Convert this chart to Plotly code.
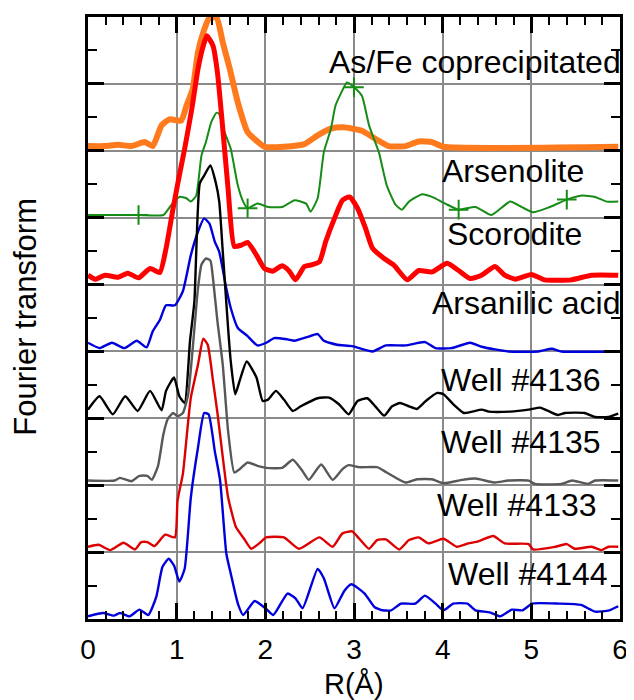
import plotly.graph_objects as go

# ---------------- data (R in Angstrom, stacked Fourier transform magnitude) ----------------
asfe_x = [0.0, 0.19, 0.34, 0.49, 0.64, 0.73, 0.83, 0.92, 1.05, 1.11, 1.18, 1.24, 1.30, 1.37, 1.45,
          1.52, 1.60, 1.69, 1.80, 1.91, 1.99, 2.21, 2.44, 2.59, 2.74, 2.88, 3.09, 3.24, 3.39, 3.58,
          3.73, 3.88, 4.01, 5.98]
asfe_y = [7.07, 7.07, 7.09, 7.07, 7.13, 7.07, 7.38, 7.47, 7.45, 7.67, 7.92, 8.47, 8.77, 8.99, 8.99,
          8.62, 8.22, 7.72, 7.28, 7.14, 7.06, 7.06, 7.10, 7.23, 7.33, 7.35, 7.30, 7.18, 7.07, 7.07,
          7.14, 7.13, 7.06, 7.06]

arsenolite_x = [0.0, 0.57, 0.85, 0.94, 1.03, 1.11, 1.16, 1.22, 1.28, 1.33, 1.39, 1.45, 1.48, 1.54,
                1.61, 1.69, 1.75, 1.80, 1.91, 2.03, 2.19, 2.33, 2.46, 2.51, 2.59, 2.66, 2.74, 2.79,
                2.85, 2.92, 3.00, 3.09, 3.17, 3.28, 3.37, 3.47, 3.54, 3.62, 3.77, 3.88, 4.03, 4.18,
                4.37, 4.55, 4.76, 4.89, 5.02, 5.19, 5.40, 5.57, 5.72, 5.85, 5.98]
arsenolite_y = [6.04, 6.04, 6.04, 6.19, 6.31, 6.29, 6.24, 6.33, 6.93, 7.13, 7.43, 7.57, 7.55, 7.28,
                7.03, 6.48, 6.24, 6.14, 6.21, 6.16, 6.16, 6.26, 6.21, 6.09, 6.29, 6.98, 7.33, 7.67,
                7.85, 8.02, 7.95, 7.82, 7.38, 6.98, 6.48, 6.19, 6.12, 6.24, 6.35, 6.31, 6.21, 6.12,
                6.16, 6.04, 6.24, 6.16, 6.08, 6.15, 6.27, 6.33, 6.31, 6.24, 6.24]
arsenolite_marks = [1, 17, 30, 41, 48]

scorodite_x = [0.0, 0.08, 0.19, 0.34, 0.45, 0.57, 0.70, 0.81, 0.88, 0.96, 1.03, 1.09, 1.17, 1.24,
               1.30, 1.34, 1.41, 1.46, 1.52, 1.58, 1.65, 1.73, 1.80, 1.90, 1.99, 2.08, 2.19, 2.27,
               2.34, 2.44, 2.51, 2.61, 2.68, 2.78, 2.87, 2.95, 3.04, 3.13, 3.21, 3.34, 3.45, 3.60,
               3.73, 3.88, 4.05, 4.18, 4.31, 4.44, 4.59, 4.70, 4.82, 5.00, 5.15, 5.45, 5.68, 5.98]
scorodite_y = [5.14, 5.08, 5.14, 5.11, 5.17, 5.10, 5.24, 5.18, 5.54, 6.14, 6.63, 7.03, 7.62, 8.22,
               8.57, 8.72, 8.57, 8.17, 7.33, 6.43, 5.57, 5.59, 5.63, 5.44, 5.24, 5.20, 5.28, 5.20,
               5.07, 5.27, 5.29, 5.34, 5.64, 5.99, 6.26, 6.31, 6.14, 5.84, 5.54, 5.39, 5.29, 5.07,
               5.21, 5.19, 5.32, 5.21, 5.09, 5.14, 5.27, 5.14, 5.08, 5.15, 5.07, 5.07, 5.14, 5.14]

arsanilic_x = [0.0, 0.13, 0.27, 0.41, 0.55, 0.66, 0.73, 0.81, 0.88, 0.98, 1.07, 1.16, 1.24, 1.31,
               1.37, 1.43, 1.48, 1.56, 1.61, 1.69, 1.80, 1.91, 2.01, 2.10, 2.25, 2.33, 2.46, 2.59,
               2.66, 2.81, 2.98, 3.21, 3.36, 3.58, 3.80, 3.92, 4.10, 4.31, 4.44, 4.59, 4.74, 5.08,
               5.23, 5.34, 5.98]
arsanilic_y = [4.13, 4.05, 4.13, 4.05, 4.16, 4.06, 4.30, 4.47, 4.69, 4.69, 4.90, 5.44, 5.79, 5.99,
               5.91, 5.64, 5.49, 4.94, 4.65, 4.35, 4.23, 4.09, 4.13, 4.20, 4.18, 4.16, 4.21, 4.26,
               4.16, 4.10, 4.08, 4.00, 4.09, 4.09, 4.14, 4.05, 4.05, 4.13, 4.07, 4.03, 4.00, 4.00,
               4.04, 4.00, 4.00]

w4136_x = [0.0, 0.13, 0.28, 0.42, 0.56, 0.70, 0.83, 0.88, 0.97, 1.03, 1.09, 1.15, 1.20, 1.26, 1.31,
           1.38, 1.44, 1.48, 1.52, 1.58, 1.61, 1.66, 1.71, 1.79, 1.90, 1.97, 2.03, 2.12, 2.21, 2.31,
           2.40, 2.59, 2.72, 2.83, 2.94, 3.04, 3.15, 3.24, 3.34, 3.43, 3.52, 3.62, 3.71, 3.81, 3.94,
           4.01, 4.12, 4.24, 4.44, 4.52, 4.76, 4.97, 5.10, 5.19, 5.30, 5.38, 5.60, 5.72, 5.87, 5.98]
w4136_y = [3.13, 3.33, 3.06, 3.33, 3.11, 3.41, 3.12, 3.41, 3.61, 3.33, 3.23, 4.15, 4.75, 6.51, 6.63,
           6.78, 6.53, 6.24, 5.49, 4.35, 3.85, 3.36, 3.56, 3.85, 3.61, 3.26, 3.28, 3.41, 3.28, 3.11,
           3.18, 3.30, 3.31, 3.21, 3.06, 3.26, 3.30, 3.18, 3.04, 3.18, 3.23, 3.18, 3.14, 3.26, 3.38,
           3.36, 3.21, 3.08, 3.13, 3.10, 3.10, 3.13, 3.16, 3.11, 3.05, 3.08, 3.08, 3.02, 3.02, 3.07]

w4135_x = [0.0, 0.30, 0.36, 0.49, 0.58, 0.67, 0.72, 0.79, 0.85, 0.90, 0.96, 1.01, 1.07, 1.13, 1.24,
           1.28, 1.33, 1.38, 1.41, 1.46, 1.52, 1.58, 1.65, 1.71, 1.80, 1.91, 2.01, 2.19, 2.31, 2.42,
           2.49, 2.63, 2.76, 2.87, 2.94, 3.06, 3.26, 3.37, 3.58, 3.71, 3.88, 4.01, 4.22, 4.37, 4.59,
           4.74, 4.97, 5.04, 5.34, 5.46, 5.64, 5.72, 5.98]
w4135_y = [2.07, 2.07, 2.11, 2.06, 2.14, 2.14, 2.08, 2.29, 2.76, 2.99, 3.08, 3.03, 3.08, 3.36, 4.94,
           5.30, 5.39, 5.36, 5.09, 4.45, 3.80, 2.81, 2.19, 2.24, 2.34, 2.29, 2.26, 2.26, 2.38, 2.21,
           2.08, 2.31, 2.08, 2.24, 2.30, 2.27, 2.27, 2.19, 2.04, 2.09, 2.09, 2.03, 2.08, 2.10, 2.04,
           2.07, 2.07, 2.02, 2.02, 2.07, 2.02, 2.07, 2.07]

w4133_x = [0.0, 0.12, 0.25, 0.40, 0.53, 0.60, 0.67, 0.75, 0.87, 0.98, 1.01, 1.07, 1.13, 1.16, 1.24,
           1.30, 1.35, 1.41, 1.46, 1.52, 1.58, 1.67, 1.76, 1.84, 1.93, 2.01, 2.21, 2.38, 2.61, 2.76,
           2.87, 2.98, 3.06, 3.17, 3.26, 3.36, 3.51, 3.62, 3.73, 3.84, 4.01, 4.16, 4.29, 4.40, 4.57,
           4.70, 4.97, 5.02, 5.27, 5.40, 5.49, 5.68, 5.79, 5.87, 5.98]
w4133_y = [1.08, 1.11, 1.03, 1.14, 1.04, 1.15, 1.15, 1.09, 1.26, 1.22, 1.77, 2.17, 2.96, 3.31, 3.80,
           4.19, 4.10, 3.56, 3.08, 2.42, 1.82, 1.37, 1.20, 1.05, 1.13, 1.22, 1.22, 1.05, 1.22, 1.08,
           1.28, 1.31, 1.20, 1.05, 1.18, 1.19, 1.04, 1.18, 1.22, 1.13, 1.20, 1.08, 1.13, 1.16, 1.24,
           1.13, 1.12, 1.04, 1.08, 1.12, 1.05, 1.08, 1.03, 1.08, 1.08]

w4144_x = [0.0, 0.17, 0.29, 0.36, 0.47, 0.58, 0.68, 0.77, 0.84, 0.91, 0.97, 1.03, 1.09, 1.16, 1.24,
           1.31, 1.36, 1.43, 1.49, 1.56, 1.61, 1.69, 1.75, 1.88, 2.01, 2.09, 2.25, 2.34, 2.42, 2.59,
           2.66, 2.78, 2.89, 2.97, 3.12, 3.23, 3.32, 3.42, 3.53, 3.69, 3.80, 3.92, 4.01, 4.12, 4.28,
           4.37, 4.53, 4.65, 4.78, 4.90, 5.01, 5.31, 5.56, 5.72, 5.88, 5.98]
w4144_y = [0.04, 0.09, 0.05, 0.09, 0.04, 0.14, 0.06, 0.33, 0.78, 0.90, 0.80, 0.56, 0.75, 1.82, 2.56,
           3.08, 3.06, 2.51, 2.07, 0.98, 0.68, 0.23, 0.06, 0.27, 0.15, 0.06, 0.38, 0.31, 0.16, 0.75,
           0.61, 0.16, 0.42, 0.52, 0.38, 0.18, 0.13, 0.13, 0.23, 0.23, 0.35, 0.23, 0.13, 0.23, 0.23,
           0.13, 0.10, 0.04, 0.14, 0.13, 0.23, 0.23, 0.21, 0.11, 0.13, 0.19]

series_names = ["As/Fe coprecipitated", "Arsenolite", "Scorodite", "Arsanilic acid",
                "Well #4136", "Well #4135", "Well #4133", "Well #4144"]
x_ticks = [0, 1, 2, 3, 4, 5, 6]

# ---------------- styling ----------------
series = [
    (asfe_x, asfe_y, "#FF7A1C", 6),
    (arsenolite_x, arsenolite_y, "#168C16", 2),
    (scorodite_x, scorodite_y, "#FF0000", 5),
    (arsanilic_x, arsanilic_y, "#0000DD", 2.4),
    (w4136_x, w4136_y, "#000000", 2.4),
    (w4135_x, w4135_y, "#585858", 2.4),
    (w4133_x, w4133_y, "#DD0000", 2.4),
    (w4144_x, w4144_y, "#0000DD", 2.4),
]
# label anchor (right edge x, vertical centre y) in data units
label_pos = [(5.995, 8.32), (5.62, 6.70), (5.59, 5.76), (6.0, 4.72),
             (5.81, 3.57), (5.81, 2.65), (5.76, 1.71), (5.89, 0.67)]

FONT = "Liberation Sans, Arial, sans-serif"
fig = go.Figure()

for (xs, ys, col, w), name in zip(series, series_names):
    fig.add_trace(go.Scatter(x=xs, y=ys, mode="lines", name=name,
                             line=dict(color=col, width=w, shape="spline", smoothing=0.5),
                             showlegend=False, cliponaxis=True))

# '+' markers on the Arsenolite curve
fig.add_trace(go.Scatter(
    x=[arsenolite_x[i] for i in arsenolite_marks],
    y=[arsenolite_y[i] for i in arsenolite_marks],
    mode="markers", showlegend=False,
    marker=dict(symbol="cross-thin", size=14, line=dict(color="#168C16", width=2))))

for name, (lx, ly) in zip(series_names, label_pos):
    fig.add_annotation(x=lx, y=ly, xref="x", yref="y", text=name, showarrow=False,
                       xanchor="right", yanchor="middle", xshift=3 if lx >= 5.99 else 0,
                       font=dict(family=FONT, size=32, color="black"))

fig.add_annotation(x=0.5, y=-0.108, xref="paper", yref="paper", text="R(Å)", showarrow=False,
                   xanchor="center", yanchor="middle", font=dict(family=FONT, size=29, color="black"))
fig.add_annotation(x=-0.118, y=0.5025, xref="paper", yref="paper", text="Fourier transform",
                   showarrow=False, textangle=-90, xanchor="center", yanchor="middle",
                   font=dict(family=FONT, size=31, color="black"))

fig.update_xaxes(range=[0, 6], tickvals=x_ticks, ticktext=[str(t) for t in x_ticks],
                 ticks="inside", ticklen=16, tickwidth=2.5, tickcolor="black",
                 ticklabelstandoff=3,
                 minor=dict(dtick=0.2, ticks="inside", ticklen=8, tickwidth=2, tickcolor="black",
                            showgrid=False),
                 showline=True, linecolor="black", linewidth=3, mirror="ticks",
                 showgrid=True, gridcolor="#8A8A8A", gridwidth=2, zeroline=False,
                 tickfont=dict(family=FONT, size=28, color="black"))
fig.update_yaxes(range=[0, 9], dtick=1, tick0=0, showticklabels=False,
                 ticks="inside", ticklen=16, tickwidth=2.5, tickcolor="black",
                 minor=dict(dtick=0.5, ticks="inside", ticklen=9, tickwidth=2, tickcolor="black",
                            showgrid=False),
                 showline=True, linecolor="black", linewidth=3, mirror="ticks",
                 showgrid=True, gridcolor="#8A8A8A", gridwidth=2, zeroline=False)

# page body has an 8px default margin, so the figure is sized to fill the window exactly
fig.update_layout(width=626, height=692, margin=dict(l=80, r=12, t=6, b=81),
                  paper_bgcolor="white", plot_bgcolor="white",
                  font=dict(family=FONT, color="black"))

fig.write_html("out.html")
